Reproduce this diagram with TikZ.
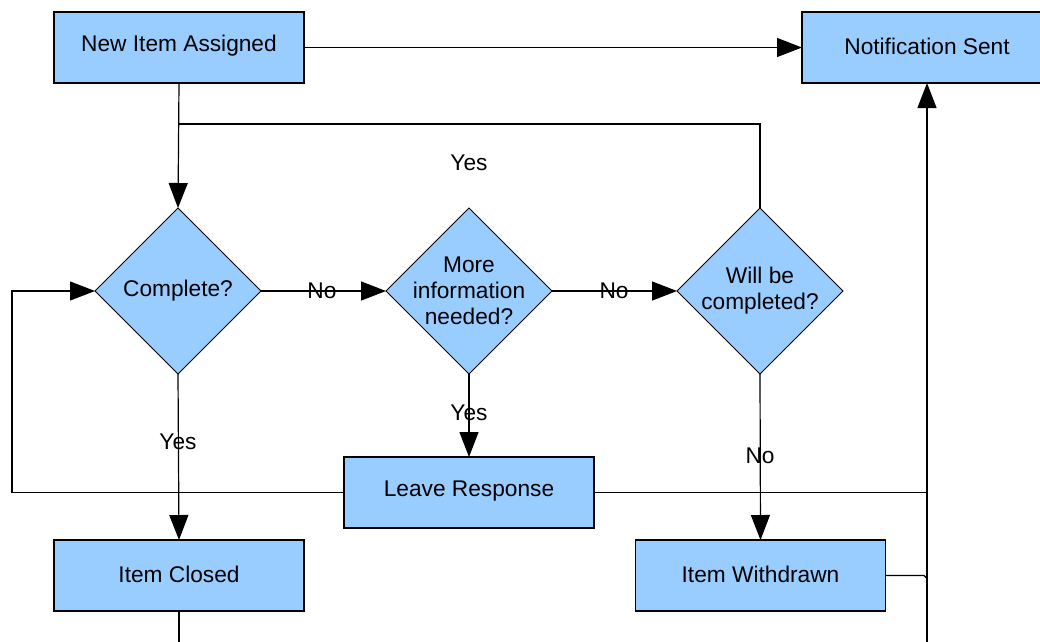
\documentclass[tikz,border=0pt]{standalone}
\usepackage{fontspec}
\setmainfont{Liberation Sans}
\usetikzlibrary{shapes.geometric,arrows.meta}
\definecolor{boxblue}{RGB}{153,204,255}
\newcommand\dfont{\fontsize{22.7}{26}\selectfont}
\begin{document}
\begin{tikzpicture}[x=1pt,y=-1pt,
  box/.style={draw=black,line width=1.2pt,fill=boxblue,minimum width=250pt,minimum height=71pt,inner sep=0pt,outer sep=0pt,font=\dfont},
  btext/.style={font=\dfont,inner sep=0pt},
  dec/.style={draw=black,line width=0.9pt,fill=boxblue,diamond,minimum width=166pt,minimum height=166pt,inner sep=0pt,outer sep=0pt},
  dtext/.style={align=center,font=\dfont,inner sep=0pt},
  conn/.style={line width=1.2pt},
  arr/.style={conn,-{Triangle[length=25pt,width=19pt]}},
  lbl/.style={font=\dfont,inner sep=0pt}]
\clip (0,0) rectangle (1040,641);
% boxes
\node[box] (nia) at (179,47.5) {};
\node[btext] (niat) at ([yshift=1.5pt]nia) {New Item Assigned};
\node[box] (ns) at (927,47.5) {};
\node[btext] (nst) at ([yshift=1.5pt]ns) {Notification Sent};
\node[box] (lr) at (469,492.5) {};
\node[btext] (lrt) at ([yshift=1.5pt]lr) {Leave Response};
\node[box] (icl) at (179,575.5) {};
\node[btext] (iclt) at ([yshift=1.5pt]icl) {Item Closed};
\node[box] (iw) at (760.5,575.5) {};
\node[btext] (iwt) at ([yshift=1.5pt]iw) {Item Withdrawn};
% decisions
\node[dec] (c) at (178,291) {};
\node[dtext] (ct) at (c) {Complete?};
\node[dec] (m) at (469,291) {};
\node[dtext] (mt) at (m) {More\\information\\needed?};
\node[dec] (w) at (760,291) {};
\node[dtext] (wt) at (w) {Will be\\completed?};
% helper coordinates
\coordinate (j) at (178,124);
\coordinate (lb) at (12,492.5);
\coordinate (rb) at (927,660);
\coordinate (cb) at (179,660);
% connectors
\draw[arr] (nia.east) -- (ns.west);
\draw[arr] (nia.south) -- (c.north);
\draw[conn] (w.north) |- (j);
\draw[arr] (c.east) -- (m.west);
\draw[arr] (m.east) -- (w.west);
\draw[arr] (m.south) -- (lr.north);
\draw[arr] (c.south) -- (icl.north);
\draw[arr] (w.south) -- (iw.north);
\draw[arr] (lr.west) -- (lb) |- (c.west);
\draw[conn] (lr.east) -- (lr.east -| rb);
\draw[conn] (iw.east) -- ([xshift=-3pt]iw.east -| rb) -- ([yshift=-3pt]iw.east -| rb);
\draw[arr] (rb) -- (ns.south);
\draw[conn] (icl.south) -- (cb);
% labels
\node[lbl] (l1) at (469,163) {Yes};
\node[lbl] (l2) at (322,291) {No};
\node[lbl] (l3) at (614,291) {No};
\node[lbl] (l4) at (469,413) {Yes};
\node[lbl] (l5) at (178,442) {Yes};
\node[lbl] (l6) at (760,456) {No};
\end{tikzpicture}
\end{document}
